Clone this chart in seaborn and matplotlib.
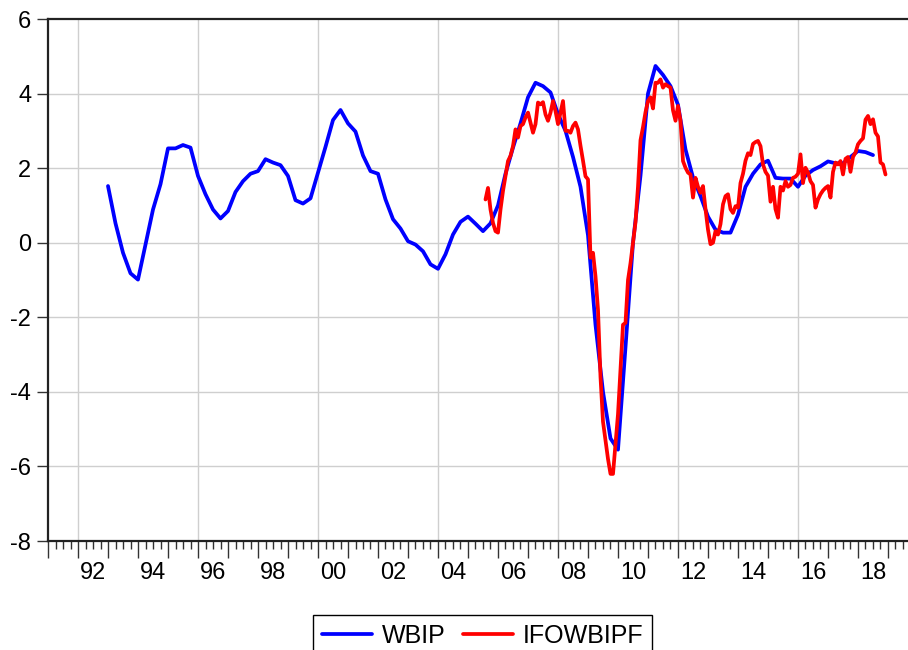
import numpy as np
import pandas as pd
import matplotlib
matplotlib.use("Agg")
import matplotlib.pyplot as plt
import matplotlib.ticker as mticker
import seaborn as sns

# ---- data ----
wbip_start = 1993.0          # first quarter: 1993Q1
wbip = [1.52, 0.52, -0.27, -0.82, -0.99, -0.05, 0.89, 1.57, 2.53, 2.53,
        2.62, 2.55, 1.79, 1.30, 0.89, 0.65, 0.85, 1.36, 1.65, 1.85,
        1.92, 2.24, 2.15, 2.08, 1.79, 1.14, 1.05, 1.19, 1.88, 2.57,
        3.29, 3.56, 3.20, 2.98, 2.34, 1.92, 1.85, 1.16, 0.63, 0.38,
        0.04, -0.05, -0.23, -0.58, -0.70, -0.31, 0.22, 0.56, 0.70, 0.51,
        0.31, 0.52, 1.00, 1.85, 2.55, 3.20, 3.90, 4.29, 4.20, 4.03,
        3.45, 3.00, 2.30, 1.50, 0.20, -2.20, -4.00, -5.25, -5.55, -2.80,
        0.00, 1.80, 4.00, 4.74, 4.50, 4.20, 3.70, 2.50, 1.75, 1.25,
        0.70, 0.35, 0.27, 0.27, 0.75, 1.50, 1.85, 2.10, 2.20, 1.74,
        1.72, 1.72, 1.50, 1.80, 1.95, 2.05, 2.18, 2.13, 2.13, 2.30,
        2.46, 2.43, 2.35]

ifo_start = 2005 + 7 / 12    # first month: Aug 2005
ifo = [1.16, 1.47, 0.89, 0.53, 0.31, 0.27, 0.89, 1.39, 1.79, 2.19,
       2.33, 2.59, 3.04, 2.82, 3.13, 3.18, 3.36, 3.49, 3.22, 2.95,
       3.18, 3.76, 3.71, 3.77, 3.44, 3.27, 3.49, 3.80, 3.53, 3.18,
       3.49, 3.80, 3.00, 3.00, 2.95, 3.13, 3.22, 3.04, 2.60, 2.20,
       1.78, 1.70, -0.40, -0.27, -0.90, -1.80, -3.60, -4.80, -5.30, -5.80,
       -6.20, -6.20, -5.40, -4.60, -3.40, -2.20, -2.15, -1.00, -0.55, 0.00,
       0.55, 1.50, 2.75, 3.10, 3.50, 3.80, 3.90, 3.60, 4.29, 4.29,
       4.38, 4.16, 4.25, 4.20, 4.16, 3.55, 3.27, 3.67, 3.27, 2.19,
       2.01, 1.88, 1.83, 1.21, 1.74, 1.50, 1.34, 1.52, 0.90, 0.35,
       -0.04, 0.00, 0.31, 0.22, 0.50, 1.03, 1.25, 1.30, 0.90, 0.80,
       0.98, 0.94, 1.60, 1.85, 2.20, 2.40, 2.35, 2.65, 2.70, 2.73,
       2.59, 2.10, 1.90, 1.80, 1.10, 1.50, 0.90, 0.67, 1.50, 1.40,
       1.65, 1.50, 1.55, 1.74, 1.77, 1.85, 2.37, 1.60, 2.01, 1.88,
       1.65, 1.55, 0.94, 1.16, 1.30, 1.40, 1.47, 1.52, 1.21, 1.90,
       2.15, 2.10, 2.19, 1.83, 2.25, 2.30, 1.90, 2.30, 2.42, 2.64,
       2.73, 2.80, 3.30, 3.40, 3.18, 3.31, 2.95, 2.85, 2.15, 2.10,
       1.83]

series_names = ["WBIP", "IFOWBIPF"]
y_ticks = [-8, -6, -4, -2, 0, 2, 4, 6]
grid_years = [1992, 1996, 2000, 2004, 2008, 2012, 2016]
label_years = list(range(1992, 2019, 2))

df_w = pd.DataFrame({"t": wbip_start + np.arange(len(wbip)) / 4, "v": wbip})
df_i = pd.DataFrame({"t": ifo_start + np.arange(len(ifo)) / 12, "v": ifo})

# ---- style ----
sns.set_theme(style="white")
plt.rcParams["font.family"] = ["Liberation Sans", "DejaVu Sans"]
plt.rcParams["axes.unicode_minus"] = False

fig = plt.figure(figsize=(9.08, 6.5), dpi=100)
ax = fig.add_axes([48 / 908, 1 - 541 / 650, 860 / 908, 522 / 650])

for y in y_ticks[1:-1]:
    ax.axhline(y, color="#cfcfcf", lw=1.0, zorder=0)
for gx in grid_years:
    ax.axvline(gx, color="#cfcfcf", lw=1.0, zorder=0)

sns.lineplot(data=df_w, x="t", y="v", ax=ax, color="#0000ff", lw=2.7,
             label=series_names[0], zorder=3)
sns.lineplot(data=df_i, x="t", y="v", ax=ax, color="#ff0000", lw=2.7,
             label=series_names[1], zorder=4)

ax.set_xlim(1991.0, 1992 + 830 / 30)
ax.set_ylim(-8, 6)
ax.set_xlabel("")
ax.set_ylabel("")

ax.set_yticks(y_ticks)
ax.yaxis.set_major_formatter(mticker.FuncFormatter(lambda v, p: f"{int(v)}"))
ax.tick_params(axis="y", which="major", direction="out", length=8, width=1,
               color="#333333", labelsize=17, pad=4, left=True,
               labelcolor="black")

years = np.arange(1991, 2020)
ax.xaxis.set_major_locator(mticker.FixedLocator(years))
ax.xaxis.set_major_formatter(mticker.NullFormatter())
quarters = [y + q / 4 for y in years for q in (1, 2, 3)]
ax.xaxis.set_minor_locator(mticker.FixedLocator(quarters))
lab_pos = {y + 0.5: f"{y % 100:02d}" for y in label_years}


def minor_fmt(v, p):
    for k, s in lab_pos.items():
        if abs(v - k) < 1e-6:
            return s
    return ""


ax.xaxis.set_minor_formatter(mticker.FuncFormatter(minor_fmt))
ax.tick_params(axis="x", which="major", direction="out", length=12, width=1,
               color="#333333", bottom=True)
ax.tick_params(axis="x", which="minor", direction="out", length=6, width=1,
               color="#333333", labelsize=17, pad=9, bottom=True,
               labelcolor="black")

for s in ["left", "bottom", "top"]:
    ax.spines[s].set_color("#222222")
    ax.spines[s].set_linewidth(1.6)
ax.spines["right"].set_visible(False)

h, l = ax.get_legend_handles_labels()
ax.get_legend().remove()
leg = fig.legend(h, l, loc="upper center", bbox_to_anchor=(482.5 / 908, 1 - 615 / 650),
                 ncol=2, fontsize=18, frameon=True, fancybox=False, shadow=False,
                 handlelength=2.0, handletextpad=0.4, columnspacing=0.7,
                 borderpad=0.35, borderaxespad=0.0, labelcolor="black")
leg.get_frame().set_edgecolor("black")
leg.get_frame().set_linewidth(1.0)
leg.get_frame().set_alpha(1.0)

fig.savefig("out.png", dpi=100)
